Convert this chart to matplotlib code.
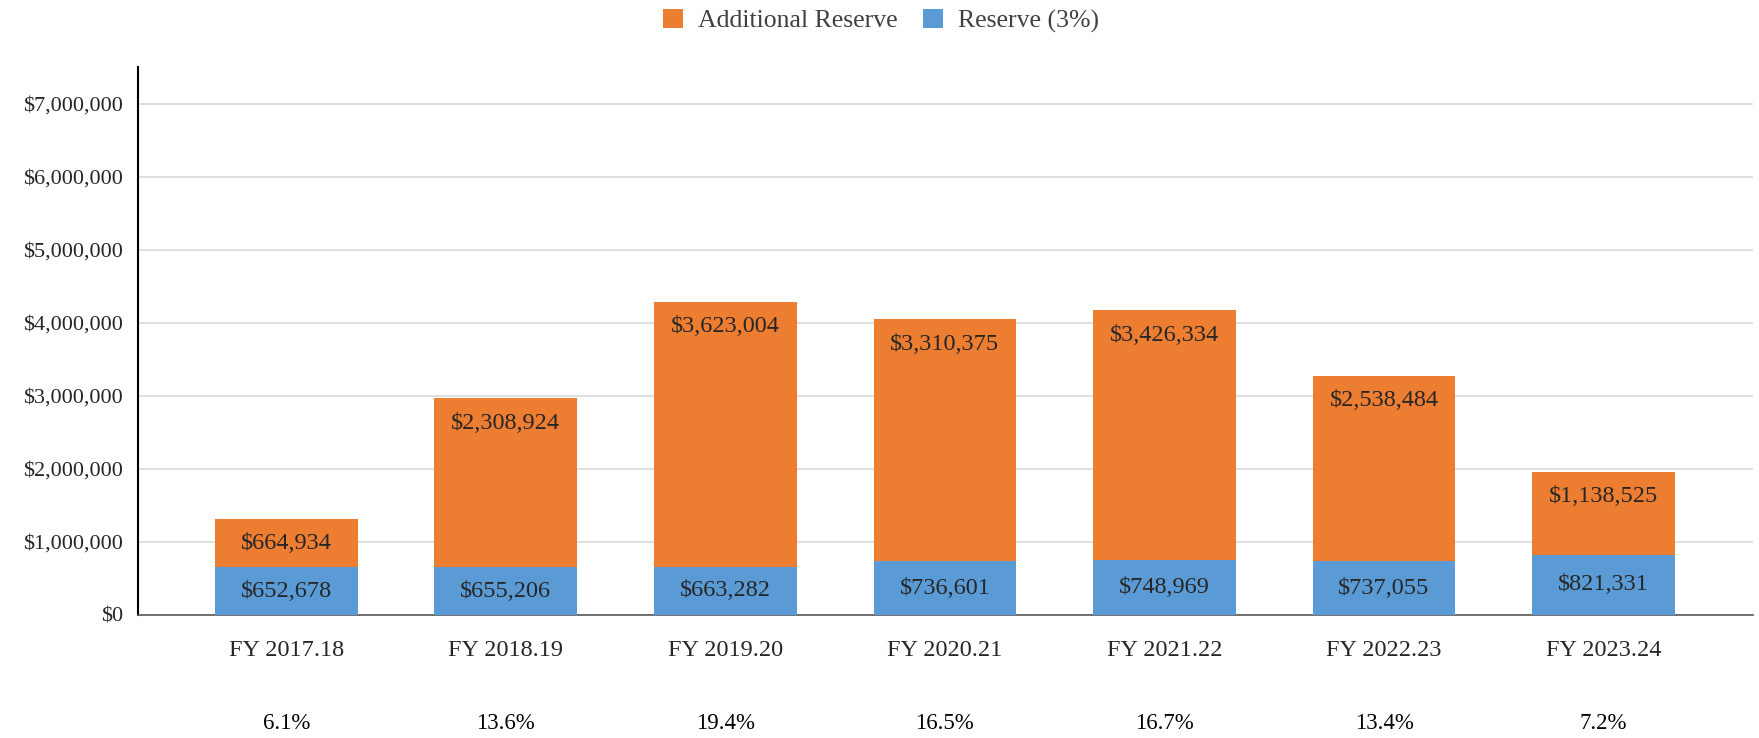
import matplotlib
matplotlib.use("Agg")
import matplotlib.pyplot as plt
from matplotlib.ticker import FuncFormatter
from matplotlib.patches import Patch
import matplotlib.transforms as mtransforms

plt.rcParams['font.family'] = ['Liberation Serif', 'DejaVu Serif']

categories = ["FY 2017.18", "FY 2018.19", "FY 2019.20", "FY 2020.21",
              "FY 2021.22", "FY 2022.23", "FY 2023.24"]
reserve = [652678, 655206, 663282, 736601, 748969, 737055, 821331]
additional = [664934, 2308924, 3623004, 3310375, 3426334, 2538484, 1138525]
percents = ["6.1%", "13.6%", "19.4%", "16.5%", "16.7%", "13.4%", "7.2%"]
yticks = [0, 1000000, 2000000, 3000000, 4000000, 5000000, 6000000, 7000000]

ORANGE = "#ED7D31"
BLUE = "#5B9BD5"
TXT = "#262626"

fig = plt.figure(figsize=(17.59, 7.38), dpi=100)
ax = fig.add_axes([0.0785, 0.1667, 0.918, 0.7423])

x = list(range(len(categories)))
w = 0.65
b1 = ax.bar(x, reserve, width=w, color=BLUE, zorder=3)
b2 = ax.bar(x, additional, width=w, bottom=reserve, color=ORANGE, zorder=3)

for i in x:
    ax.text(i, reserve[i] / 2, f"${reserve[i]:,}", ha='center', va='center',
            fontsize=17.5, color=TXT, zorder=4)
    top = reserve[i] + additional[i]
    ax.annotate(f"${additional[i]:,}", xy=(i, top), xytext=(0, -18),
                textcoords='offset points', ha='center', va='center',
                fontsize=17.5, color=TXT, zorder=4)

ax.set_ylim(0, 7500000)
ax.set_xlim(-0.675, 6.68)
ax.set_yticks(yticks)
ax.yaxis.set_major_formatter(FuncFormatter(lambda v, p: f"${int(v):,}"))
ax.set_xticks(x)
ax.set_xticklabels(categories)
ax.tick_params(axis='both', length=0, colors=TXT)
ax.tick_params(axis='y', pad=11, labelsize=16)
ax.tick_params(axis='x', pad=18, labelsize=17.5)
ax.grid(axis='y', color='#d9d9d9', linewidth=1.2, zorder=0)
ax.set_axisbelow(True)
for s in ['top', 'right']:
    ax.spines[s].set_visible(False)
ax.spines['left'].set_color('black')
ax.spines['left'].set_linewidth(1.5)
ax.spines['bottom'].set_color('#595959')
ax.spines['bottom'].set_linewidth(1.2)

trans = mtransforms.blended_transform_factory(ax.transData, ax.transAxes)
for i, p in enumerate(percents):
    ax.text(i, -0.199, p, transform=trans, ha='center', va='center',
            fontsize=16.5, color='black')

handles = [Patch(facecolor=ORANGE, label="Additional Reserve"),
           Patch(facecolor=BLUE, label="Reserve (3%)")]
fig.legend(handles=handles, loc='center', bbox_to_anchor=(0.501, 0.972), ncol=2,
           frameon=False, fontsize=18.5, handlelength=0.75, handleheight=0.75,
           handletextpad=0.6, columnspacing=1.0, labelcolor='#404040')

fig.savefig("out.png", dpi=100)
